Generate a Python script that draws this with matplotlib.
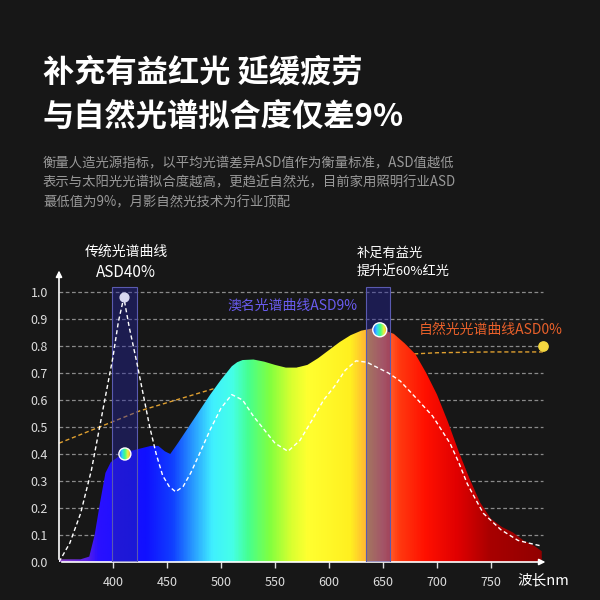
import numpy as np
import matplotlib
matplotlib.use("Agg")
import matplotlib.pyplot as plt
from matplotlib.colors import LinearSegmentedColormap
from matplotlib.patches import Rectangle, Ellipse, Polygon

plt.rcParams['font.family'] = ['Noto Sans CJK SC', 'DejaVu Sans']

# --- data ---
wl_spec = [350, 360, 370, 378, 383, 388, 393, 398, 405, 415, 425, 435, 442, 448, 453,
           460, 470, 480, 490, 500, 505, 510, 515, 520, 530, 540, 550, 560, 570, 580, 590, 600,
           610, 620, 630, 640, 650, 660, 670, 680, 690, 700, 710, 720, 730, 740, 750,
           760, 770, 780, 790, 797]
val_spec = [0.01, 0.01, 0.01, 0.02, 0.10, 0.22, 0.33, 0.37, 0.39, 0.41, 0.42, 0.43, 0.43, 0.41, 0.40,
            0.44, 0.50, 0.56, 0.62, 0.675, 0.70, 0.725, 0.74, 0.748, 0.75, 0.742, 0.73, 0.72, 0.72, 0.73,
            0.755, 0.785, 0.815, 0.84, 0.857, 0.865, 0.86, 0.845, 0.81, 0.77, 0.70, 0.62, 0.52, 0.41,
            0.31, 0.22, 0.16, 0.13, 0.11, 0.08, 0.06, 0.04]

wl_trad = [350, 360, 370, 380, 390, 400, 405, 410, 415, 422, 428, 434, 440, 446, 452, 458,
           465, 472, 480, 490, 500, 510, 520, 530, 540, 550, 562, 573, 585, 595, 605, 615,
           625, 635, 645, 655, 666, 680, 696, 712, 720, 728, 736, 743, 751, 759, 767, 775,
           785, 796]
val_trad = [0.0, 0.07, 0.18, 0.34, 0.55, 0.76, 0.89, 0.98, 0.87, 0.74, 0.62, 0.50, 0.40, 0.32, 0.28, 0.26,
            0.28, 0.33, 0.40, 0.49, 0.57, 0.62, 0.60, 0.54, 0.49, 0.44, 0.41, 0.45, 0.53, 0.60, 0.65, 0.71,
            0.745, 0.74, 0.72, 0.70, 0.67, 0.61, 0.54, 0.44, 0.37, 0.29, 0.23, 0.18, 0.15, 0.12, 0.10, 0.08,
            0.07, 0.06]

wl_nat = [350, 375, 400, 425, 450, 475, 500, 550, 600, 650, 700, 750, 798]
val_nat = [0.44, 0.48, 0.52, 0.56, 0.59, 0.62, 0.65, 0.70, 0.74, 0.765, 0.775, 0.778, 0.778]

xticks = [400, 450, 500, 550, 600, 650, 700, 750]
yticks = [0.0, 0.1, 0.2, 0.3, 0.4, 0.5, 0.6, 0.7, 0.8, 0.9, 1.0]

bands = [(399, 422), (634, 656.5)]

# colour stops of the spectrum fill
stop_nm = [350, 375, 385, 430, 455, 475, 492, 510, 525, 545, 565, 580, 620, 632, 650, 665,
           690, 720, 750, 800]
stop_col = ['#8a3fc8', '#5a20e8', '#2a10ff', '#1010ff', '#1040ff', '#2aa0ff', '#40f0ff', '#45ffe8',
            '#45ff90', '#80ff40', '#d8ff30', '#ffff30', '#fff020', '#ffc030', '#ff7a40', '#ff3a10',
            '#ff1000', '#e00000', '#a80000', '#900000']

bg = '#171717'
fig = plt.figure(figsize=(6, 6), dpi=100, facecolor=bg)

fig.text(43/600, 1-73/600, '补充有益红光 延缓疲劳', color='white', fontsize=22.5,
         fontweight='bold', va='center', ha='left')
fig.text(43/600, 1-118/600, '与自然光谱拟合度仅差9%', color='white', fontsize=22.5,
         fontweight='bold', va='center', ha='left')
sub = ['衡量人造光源指标，以平均光谱差异ASD值作为衡量标准，ASD值越低',
       '表示与太阳光光谱拟合度越高，更趋近自然光，目前家用照明行业ASD',
       '蕞低值为9%，月影自然光技术为行业顶配']
for i, s in enumerate(sub):
    fig.text(43/600, 1-(163+19.5*i)/600, s, color='#9a9a9a', fontsize=9.6,
             va='center', ha='left')

ax = fig.add_axes([59/600, 38/600, 491.4/600, 297/600])
ax.set_facecolor(bg)
ax.set_xlim(350, 805)
ax.set_ylim(0, 1.1)
for s in ax.spines.values():
    s.set_visible(False)

# grid
ax.hlines(yticks[1:], 350, 798, colors='#8a8a8a', linestyles=(0, (3, 2)), linewidth=0.9, zorder=1)

# natural light curve (behind spectrum)
ax.plot(wl_nat, val_nat, color='#e0a030', linestyle=(0, (3, 2)), linewidth=1.0, zorder=2)
ax.scatter([798], [0.80], s=45, color='#f5d840', zorder=6)

# spectrum fill with colour gradient
cmap = LinearSegmentedColormap.from_list(
    'spec', [((n-350)/450, c) for n, c in zip(stop_nm, stop_col)])
grad = np.linspace(0, 1, 900).reshape(1, -1)
im = ax.imshow(grad, extent=(350, 800, 0, 1), aspect='auto', cmap=cmap, zorder=3,
               interpolation='bilinear')
poly = Polygon(list(zip(wl_spec, val_spec)) + [(797, 0), (350, 0)], closed=True,
               transform=ax.transData, facecolor='none', edgecolor='none')
ax.add_patch(poly)
im.set_clip_path(poly)

# highlight bands
for a, b in bands:
    ax.add_patch(Rectangle((a, 0), b-a, 1.02, facecolor='#2424a0', alpha=0.42,
                           edgecolor='none', zorder=4))
    ax.add_patch(Rectangle((a, 0), b-a, 1.02, facecolor='none', edgecolor='#5a5ab0',
                           linewidth=0.8, zorder=4))

# traditional curve
ax.plot(wl_trad, val_trad, color='white', linestyle=(0, (3, 2)), linewidth=1.0, zorder=5)
ax.scatter([410], [0.98], s=40, color='#d8d8f0', zorder=6)

# rainbow markers
rb = LinearSegmentedColormap.from_list('rb', ['#3050ff', '#30d0ff', '#40ff80', '#f0f040', '#ff9030'])
for cx, cy, r in [(411, 0.40, 6), (647, 0.86, 7)]:
    w = 2*r/1.08
    h = 2*r/270
    e = Ellipse((cx, cy), w, h, transform=ax.transData, facecolor='none', edgecolor='none')
    ax.add_patch(e)
    m = ax.imshow(np.linspace(0, 1, 50).reshape(1, -1), extent=(cx-w/2, cx+w/2, cy-h/2, cy+h/2),
                  aspect='auto', cmap=rb, zorder=7)
    m.set_clip_path(e)
    ax.add_patch(Ellipse((cx, cy), w, h, facecolor='none', edgecolor='white', linewidth=1.0, zorder=8))
ax.set_xlim(350, 805)
ax.set_ylim(0, 1.1)

# axes with arrows
ax.annotate('', xy=(350, 1.09), xytext=(350, 0), annotation_clip=False,
            arrowprops=dict(arrowstyle='-|>', color='white', lw=1.2, mutation_scale=9))
ax.annotate('', xy=(803, 0), xytext=(350, 0), annotation_clip=False,
            arrowprops=dict(arrowstyle='-|>', color='white', lw=1.2, mutation_scale=9))

ax.set_xticks(xticks)
ax.set_xticklabels([str(t) for t in xticks])
ax.set_yticks(yticks)
ax.set_yticklabels(['%.1f' % t for t in yticks])
ax.tick_params(axis='x', colors='#dddddd', labelsize=9, length=4, width=1, pad=6, direction='out')
ax.tick_params(axis='y', colors='#dddddd', labelsize=9, length=0, pad=8)

ax.text(412, 1.148, '传统光谱曲线', color='white', fontsize=10, ha='center', va='center')
ax.text(412, 1.074, 'ASD40%', color='white', fontsize=11, ha='center', va='center')
ax.text(626, 1.144, '补足有益光', color='white', fontsize=9.5, ha='left', va='center')
ax.text(626, 1.078, '提升近60%红光', color='white', fontsize=9.5, ha='left', va='center')
ax.text(505.6, 0.948, '澳名光谱曲线ASD9%', color='#6a5cf0', fontsize=10, ha='left', va='center')
ax.text(683, 0.859, '自然光光谱曲线ASD0%', color='#e8602a', fontsize=10, ha='left', va='center')
ax.text(774, -0.067, '波长nm', color='white', fontsize=10.5, ha='left', va='center')

fig.savefig('out.png', dpi=100, facecolor=bg)
